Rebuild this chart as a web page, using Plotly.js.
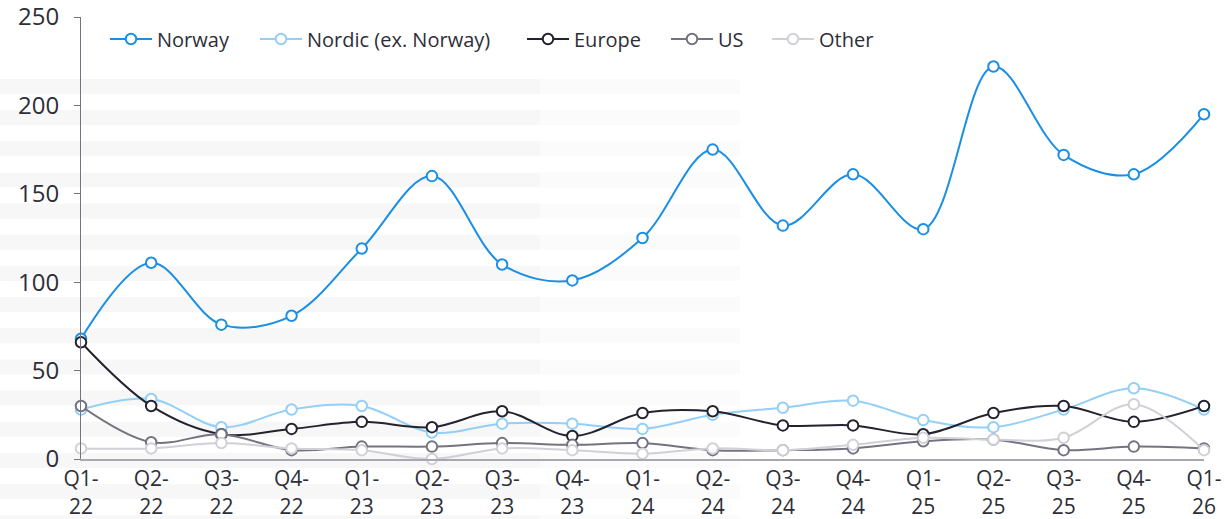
<!DOCTYPE html>
<html>
<head>
<meta charset="utf-8">
<script src="https://cdn.plot.ly/plotly-3.0.1.min.js"></script>
<style>
html,body{margin:0;padding:0;background:#fff;}
#chart{width:1225px;height:519px;}
</style>
</head>
<body>
<div id="chart"></div>
<script>
const categories = ["Q1-<br>22","Q2-<br>22","Q3-<br>22","Q4-<br>22","Q1-<br>23","Q2-<br>23","Q3-<br>23","Q4-<br>23","Q1-<br>24","Q2-<br>24","Q3-<br>24","Q4-<br>24","Q1-<br>25","Q2-<br>25","Q3-<br>25","Q4-<br>25","Q1-<br>26"];
const norway = [68,111,76,81,119,160,110,101,125,175,132,161,130,222,172,161,195];
const nordic = [28,34,18,28,30,15,20,20,17,25,29,33,22,18,28,40,28];
const europe = [66,30,14,17,21,18,27,13,26,27,19,19,14,26,30,21,30];
const us = [30,9.5,14,5,7,7,9,8,9,5,5,6,10,11,5,7,6];
const other = [6,6,9,6,5,0,6,5,3,6,5,8,12,11,12,31,5];
const yTicks = [0,50,100,150,200,250];
const seriesNames = ["Norway","Nordic (ex. Norway)","Europe","US","Other"];
const seriesColors = ["#1A8FE5","#93CFF7","#23232F","#747480","#D0D0D7"];
const seriesValues = [norway, nordic, europe, us, other];

const plotTop = 17, plotBottom = 459.5, plotLeft = 81, plotRight = 1204;
const ph = plotBottom - plotTop, pw = plotRight - plotLeft;

// legend placement (pixel x of each legend item's left edge)
const legendPx = [105, 255, 522, 666, 767];
const legendIds = ["legend","legend2","legend3","legend4","legend5"];

const xIdx = categories.map((_, i) => i);
const traces = seriesValues.map((vals, k) => ({
  type: "scatter",
  mode: "lines+markers",
  name: seriesNames[k],
  legend: legendIds[k],
  x: xIdx,
  y: vals,
  line: {color: seriesColors[k], width: 2, shape: "spline", smoothing: 1},
  marker: {symbol: "circle", size: 10.5, color: "#ffffff", line: {color: seriesColors[k], width: 2}},
  cliponaxis: false
}));

// faint decorative background stripes
const shapes = [];
for (let k = 0; k < 15; k++) {
  const y0px = 79 + 31.2 * k, y1px = y0px + 15;
  const py0 = (plotBottom - y1px) / ph, py1 = (plotBottom - y0px) / ph;
  shapes.push({type: "rect", xref: "paper", yref: "paper", layer: "below",
    x0: (0 - plotLeft) / pw, x1: (540 - plotLeft) / pw, y0: py0, y1: py1,
    fillcolor: "rgba(0,0,0,0.03)", line: {width: 0}});
  shapes.push({type: "rect", xref: "paper", yref: "paper", layer: "below",
    x0: (540 - plotLeft) / pw, x1: (740 - plotLeft) / pw, y0: py0, y1: py1,
    fillcolor: "rgba(0,0,0,0.015)", line: {width: 0}});
}

const layout = {
  width: 1225, height: 519,
  margin: {l: plotLeft, r: 1225 - plotRight, t: plotTop, b: 519 - plotBottom},
  paper_bgcolor: "#ffffff",
  plot_bgcolor: "rgba(0,0,0,0)",
  font: {family: "Open Sans, DejaVu Sans, sans-serif", color: "#2E2E38"},
  showlegend: true,
  xaxis: {
    range: [0, 16], tickmode: "array", tickvals: xIdx, ticktext: categories,
    showgrid: false, zeroline: false, showline: true, linecolor: "#A8A8B0", linewidth: 2,
    ticks: "", tickfont: {size: 21, color: "#2E2E38"}, fixedrange: true
  },
  yaxis: {
    range: [0, 250.0001], tickmode: "array", tickvals: yTicks, ticktext: yTicks.map(String),
    showgrid: false, zeroline: false, showline: true, linecolor: "#747480", linewidth: 1,
    ticks: "outside", ticklen: 6, tickcolor: "#747480", tickwidth: 1,
    ticklabelstandoff: 10, ticklabeloverflow: "allow",
    tickfont: {size: 24, color: "#2E2E38"}, fixedrange: true
  },
  shapes: shapes
};
legendIds.forEach((id, k) => {
  layout[id] = {orientation: "h", x: (legendPx[k] - plotLeft) / pw, y: (plotBottom - 39) / ph,
    xanchor: "left", yanchor: "middle", itemwidth: 42,
    font: {size: 20, color: "#2E2E38"}, bgcolor: "rgba(0,0,0,0)"};
});

Plotly.newPlot("chart", traces, layout, {displayModeBar: false, staticPlot: true});
</script>
</body>
</html>
